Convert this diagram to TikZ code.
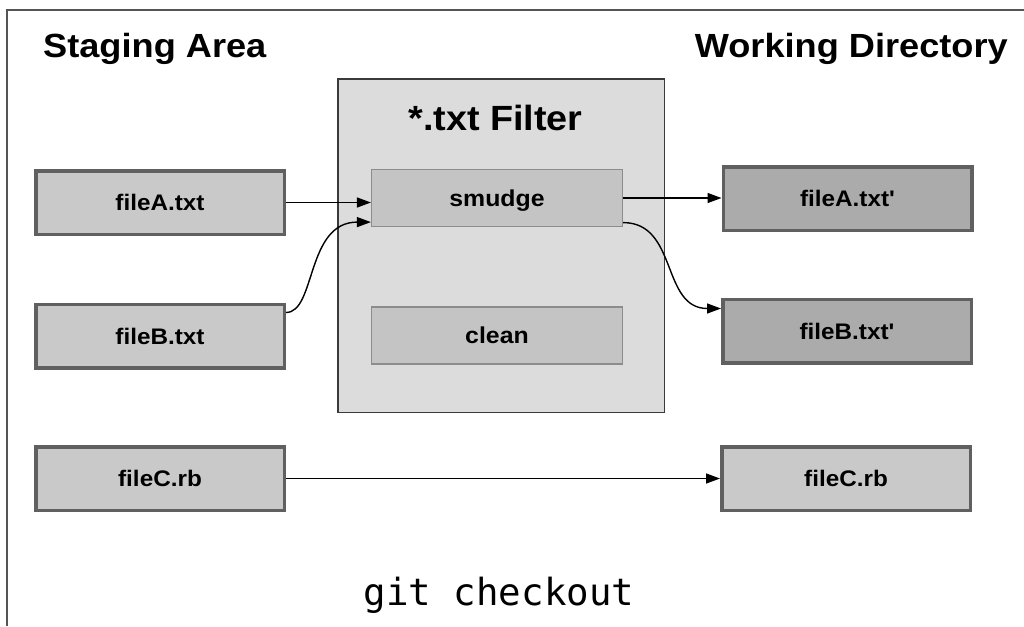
\documentclass[tikz,border=0pt]{standalone}
\usepackage{fontspec}
\newfontfamily\labfont{Liberation Sans}[FakeStretch=1.08]
\newfontfamily\monofnt{DejaVu Sans Mono}
\usetikzlibrary{arrows.meta,calc}
\definecolor{boxborder}{HTML}{606060}
\definecolor{lightfill}{HTML}{C9C9C9}
\definecolor{darkfill}{HTML}{ABABAB}
\definecolor{filterfill}{HTML}{DCDCDC}
\definecolor{filterborder}{HTML}{3A3A3A}
\definecolor{subfill}{HTML}{C4C4C4}
\definecolor{subborder}{HTML}{8C8C8C}
\definecolor{frameline}{HTML}{555555}
\tikzset{
  filebox/.style={draw=boxborder, line width=3.5pt, fill=lightfill,
    minimum width=248.5pt, minimum height=63.5pt, inner sep=0pt,
    text height=16.1pt, text depth=0pt,
    font=\labfont\fontsize{22.5}{26}\selectfont\bfseries},
  darkbox/.style={filebox, fill=darkfill},
  subbox/.style={draw=subborder, line width=1.2pt, fill=subfill,
    minimum width=251pt, minimum height=57pt, inner sep=0pt,
    text height=16.5pt, text depth=0pt,
    font=\labfont\fontsize{23}{26}\selectfont\bfseries},
  filterbox/.style={draw=filterborder, line width=1.5pt, fill=filterfill,
    minimum width=326.5pt, minimum height=333.5pt, inner sep=0pt},
  header/.style={inner sep=0pt, font=\labfont\fontsize{33.5}{38}\selectfont\bfseries},
  arr/.style={line width=1.4pt, -{Triangle[length=14pt,width=10pt]}}
}
\begin{document}
\begin{tikzpicture}[x=1pt,y=-1pt]
\useasboundingbox (0,0) rectangle (1024,626);
\fill[white] (0,0) rectangle (1024,626);
% frame
\coordinate (fr0) at (7,626);
\coordinate (fr1) at (7,10);
\coordinate (fr2) at (1024,10);
\draw[frameline, line width=1.6pt] (fr0) -- (fr1) -- (fr2);
% headers
\node[header, anchor=base west] (hstage) at (43,57) {Staging Area};
\node[header, anchor=base east] (hwork) at (1008,57) {Working Directory};
% filter
\node[filterbox] (filter) at (501,245.5) {};
\node[header, anchor=base, font=\labfont\fontsize{35}{38}\selectfont\bfseries] (ftitle) at (495.5,130) {*.txt Filter};
\node[subbox] (smudge) at (497,198) {smudge};
\node[subbox] (clean) at (497,335.5) {clean};
% left files
\node[filebox] (fileA) at (160,202.5) {fileA.txt};
\node[filebox] (fileB) at (160,336) {fileB.txt};
\node[filebox] (fileC) at (160,478.5) {fileC.rb};
% right files
\node[darkbox] (fileAp) at (847.5,198.5) {fileA.txt'};
\node[darkbox] (fileBp) at (847,331) {fileB.txt'};
\node[filebox] (fileCp) at (846,478.5) {fileC.rb};
% connectors
\draw[arr] (fileA.east) -- (fileA.east -| smudge.west);
\draw[arr] ([yshift=-10pt]fileB.north east) .. controls +(30,0) and +(-65,0) .. ([yshift=5pt]smudge.south west);
\draw[arr] (smudge.east) -- (smudge.east -| fileAp.west);
\draw[arr] ([yshift=4.5pt]smudge.south east) .. controls +(55,0) and +(-60,0) .. ([yshift=-11pt]fileBp.north west);
\draw[arr] (fileC.east) -- (fileCp.west);
% command
\node[inner sep=0pt, anchor=base, font=\monofnt\fontsize{37.4}{40}\selectfont] (cmd) at (499,605) {git checkout};
\end{tikzpicture}
\end{document}
